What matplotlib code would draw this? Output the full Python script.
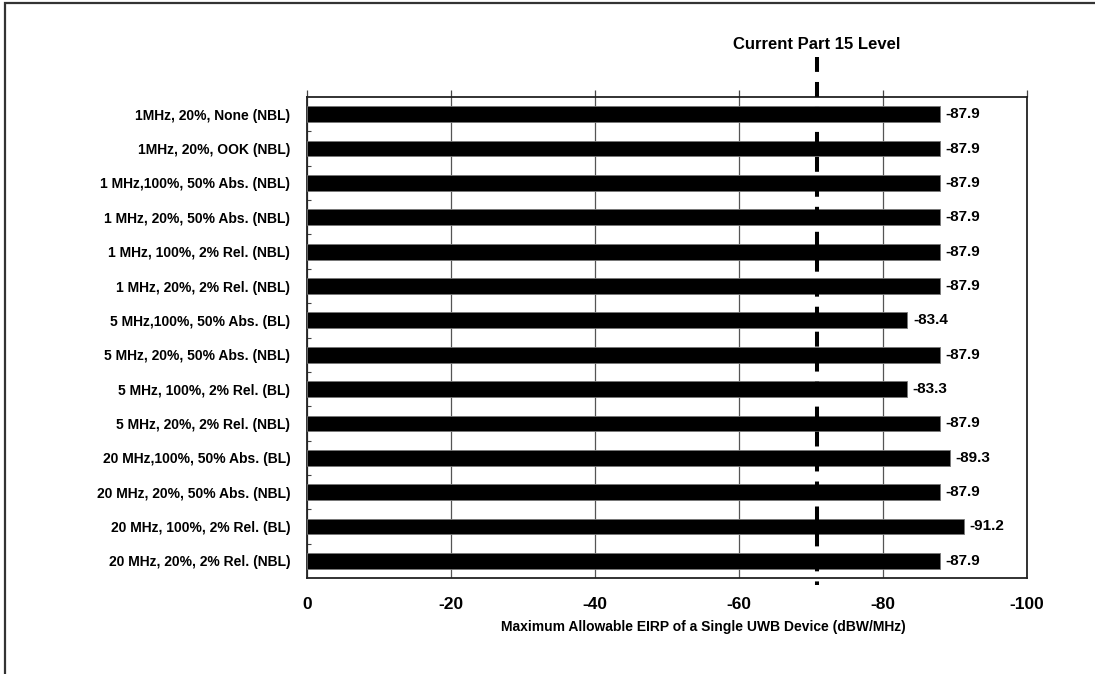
import matplotlib
matplotlib.use("Agg")
import matplotlib.pyplot as plt
from matplotlib.patches import Rectangle
from matplotlib.ticker import FixedLocator

plt.rcParams["font.family"] = ["Liberation Sans", "DejaVu Sans"]
plt.rcParams["font.weight"] = "bold"

# Data (top to bottom, as in the chart)
configs = [
    "1MHz, 20%, None (NBL)",
    "1MHz, 20%, OOK (NBL)",
    "1 MHz,100%, 50% Abs. (NBL)",
    "1 MHz, 20%, 50% Abs. (NBL)",
    "1 MHz, 100%, 2% Rel. (NBL)",
    "1 MHz, 20%, 2% Rel. (NBL)",
    "5 MHz,100%, 50% Abs. (BL)",
    "5 MHz, 20%, 50% Abs. (NBL)",
    "5 MHz, 100%, 2% Rel. (BL)",
    "5 MHz, 20%, 2% Rel. (NBL)",
    "20 MHz,100%, 50% Abs. (BL)",
    "20 MHz, 20%, 50% Abs. (NBL)",
    "20 MHz, 100%, 2% Rel. (BL)",
    "20 MHz, 20%, 2% Rel. (NBL)",
]
max_eirp = [-87.9, -87.9, -87.9, -87.9, -87.9, -87.9, -83.4,
            -87.9, -83.3, -87.9, -89.3, -87.9, -91.2, -87.9]
part15_level = -70.8
x_ticks = [0, -20, -40, -60, -80, -100]

fig = plt.figure(figsize=(10.95, 6.74), dpi=100)
ax = fig.add_axes([0.2804, 0.1424, 0.6575, 0.7136])

# outer frame (runs off the right/bottom edge in the original)
fig.patches.append(Rectangle((5 / 1095, -0.1), 1.2, 1 - 3 / 674 + 0.1,
                             transform=fig.transFigure, fill=False,
                             edgecolor="#333333", linewidth=1.6))

pos = list(range(len(configs)))
ax.barh(pos, max_eirp, height=0.46, color="black", edgecolor="#777777",
        linewidth=0.6, zorder=3)

for y, v in zip(pos, max_eirp):
    ax.annotate(f"{v}", xy=(v, y), xytext=(4, 0), textcoords="offset points",
                ha="left", va="center", fontsize=11, fontweight="bold")

ax.set_xlim(0, -100)
ax.set_ylim(len(configs) - 0.5, -0.5)

ax.set_xticks(x_ticks)
ax.set_xticklabels([str(t) for t in x_ticks], fontsize=12.5, fontweight="bold")
ax.tick_params(axis="x", top=True, bottom=False, labeltop=False,
               labelbottom=True, direction="out", length=5, width=0.9,
               color="#444444", pad=9)
ax.xaxis.grid(True, color="#555555", linewidth=0.9, zorder=1)

ax.set_yticks(pos)
ax.set_yticklabels(configs, fontsize=10, fontweight="bold")
ax.yaxis.set_minor_locator(FixedLocator([p + 0.5 for p in pos[:-1]]))
ax.tick_params(axis="y", which="major", length=0, pad=12)
ax.tick_params(axis="y", which="minor", direction="in", length=3,
               width=0.8, color="#444444")

for s in ax.spines.values():
    s.set_color("#222222")
    s.set_linewidth(1.3)

# Part 15 reference line, extends past the axes (drawn top-down)
tr = ax.get_xaxis_transform()
ax.plot([part15_level, part15_level], [1.083, -0.015], transform=tr,
        color="black", linewidth=2.9, dashes=(3.7, 2.5), clip_on=False,
        zorder=4)
ax.text(part15_level, 1.094, "Current Part 15 Level", transform=tr,
        ha="center", va="bottom", fontsize=12, fontweight="bold")

ax.set_xlabel("Maximum Allowable EIRP of a Single UWB Device (dBW/MHz)",
              fontsize=10, fontweight="bold", va="center")
ax.xaxis.set_label_coords(0.551, -0.102)

fig.savefig("out.png", dpi=100)
